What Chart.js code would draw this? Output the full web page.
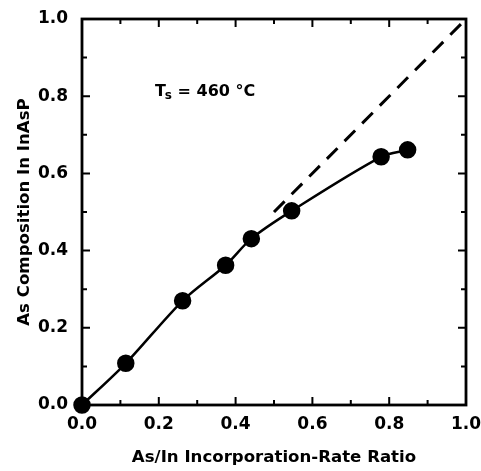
<!DOCTYPE html>
<html>
<head>
<meta charset="utf-8">
<script src="https://cdn.jsdelivr.net/npm/chart.js@4/dist/chart.umd.min.js"></script>
<style>
  html, body { margin: 0; padding: 0; background: #fff; }
  #wrap { width: 481px; height: 471px; }
</style>
</head>
<body>
<div id="wrap"><canvas id="chartCanvas" width="481" height="471"></canvas></div>
<script>
// measured points (As/In ratio vs As composition)
const rateRatio = [0.0, 0.114, 0.262, 0.374, 0.441, 0.546, 0.779, 0.848];
const asComposition = [0.0, 0.108, 0.270, 0.362, 0.431, 0.503, 0.643, 0.661];

// y = x reference (dashed)
const refX = [0.5, 1.0];
const refY = [0.5, 1.0];

const axisTicks = [0.0, 0.2, 0.4, 0.6, 0.8, 1.0];
const tempLabel = { pos: [0.19, 0.81], main: "T", sub: "s", rest: " = 460 °C" };

const tickFont = { family: "'DejaVu Sans'", size: 17, weight: "bold" };
const titleFont = { family: "'DejaVu Sans'", size: 16.6, weight: "bold" };

// frame + inward ticks on all four sides + annotation
const framePlugin = {
  id: "frame",
  afterDatasetsDraw(chart) {
    const { ctx, chartArea: a, scales } = chart;
    const xs = scales.x, ys = scales.y;
    ctx.save();
    ctx.strokeStyle = "#000";
    ctx.lineWidth = 2.8;
    ctx.strokeRect(a.left, a.top, a.right - a.left, a.bottom - a.top);
    ctx.lineWidth = 2;
    for (let i = 1; i < 10; i++) {
      const v = i / 10;
      const len = i % 2 === 0 ? 8 : 5;
      const px = xs.getPixelForValue(v);
      const py = ys.getPixelForValue(v);
      ctx.beginPath();
      ctx.moveTo(px, a.bottom); ctx.lineTo(px, a.bottom - len);
      ctx.moveTo(px, a.top); ctx.lineTo(px, a.top + len);
      ctx.moveTo(a.left, py); ctx.lineTo(a.left + len, py);
      ctx.moveTo(a.right, py); ctx.lineTo(a.right - len, py);
      ctx.stroke();
    }
    // temperature label
    let tx = xs.getPixelForValue(tempLabel.pos[0]);
    const ty = ys.getPixelForValue(tempLabel.pos[1]);
    ctx.fillStyle = "#000";
    ctx.textBaseline = "middle";
    ctx.textAlign = "left";
    ctx.font = "bold 16px 'DejaVu Sans'";
    ctx.fillText(tempLabel.main, tx, ty);
    tx += ctx.measureText(tempLabel.main).width - 1;
    ctx.font = "bold 12px 'DejaVu Sans'";
    ctx.fillText(tempLabel.sub, tx, ty + 4);
    tx += ctx.measureText(tempLabel.sub).width;
    ctx.font = "bold 16px 'DejaVu Sans'";
    ctx.fillText(tempLabel.rest, tx, ty);
    ctx.restore();
  }
};

const ctx = document.getElementById("chartCanvas").getContext("2d");
new Chart(ctx, {
  type: "scatter",
  data: {
    datasets: [
      {
        label: "InAsP",
        data: rateRatio.map((x, i) => ({ x: x, y: asComposition[i] })),
        showLine: true,
        tension: 0.3,
        borderColor: "#000",
        borderWidth: 2.5,
        backgroundColor: "#000",
        pointRadius: 7.5,
        pointHoverRadius: 7.5,
        clip: false,
      },
      {
        label: "y = x",
        data: refX.map((x, i) => ({ x: x, y: refY[i] })),
        showLine: true,
        borderColor: "#000",
        borderWidth: 3,
        borderDash: [15, 10],
        pointRadius: 0,
      },
    ],
  },
  options: {
    responsive: false,
    animation: false,
    events: [],
    layout: { padding: { left: 0, right: 15, top: 19, bottom: 0 } },
    plugins: { legend: { display: false }, tooltip: { enabled: false } },
    scales: {
      x: {
        type: "linear",
        min: 0,
        max: 1,
        afterBuildTicks: (s) => { s.ticks = axisTicks.map((v) => ({ value: v })); },
        afterFit: (s) => { s.height = 66; s.paddingLeft = 0; s.paddingRight = 0; },
        grid: { display: false, drawTicks: false },
        border: { display: false },
        ticks: { color: "#000", font: tickFont, padding: 9, maxRotation: 0,
                 callback: (v) => Number(v).toFixed(1) },
        title: { display: true, text: "As/In Incorporation-Rate Ratio", color: "#000",
                 font: titleFont, padding: { top: 0, bottom: 3 } },
      },
      y: {
        type: "linear",
        min: 0,
        max: 1,
        afterBuildTicks: (s) => { s.ticks = axisTicks.map((v) => ({ value: v })); },
        afterFit: (s) => { s.width = 82; s.paddingTop = 0; s.paddingBottom = 0; },
        grid: { display: false, drawTicks: false },
        border: { display: false },
        ticks: { color: "#000", font: tickFont, padding: 14,
                 callback: (v) => Number(v).toFixed(1) },
        title: { display: true, text: "As Composition In InAsP", color: "#000",
                 font: titleFont, padding: { top: 15, bottom: 0 } },
      },
    },
  },
  plugins: [framePlugin],
});
</script>
</body>
</html>
